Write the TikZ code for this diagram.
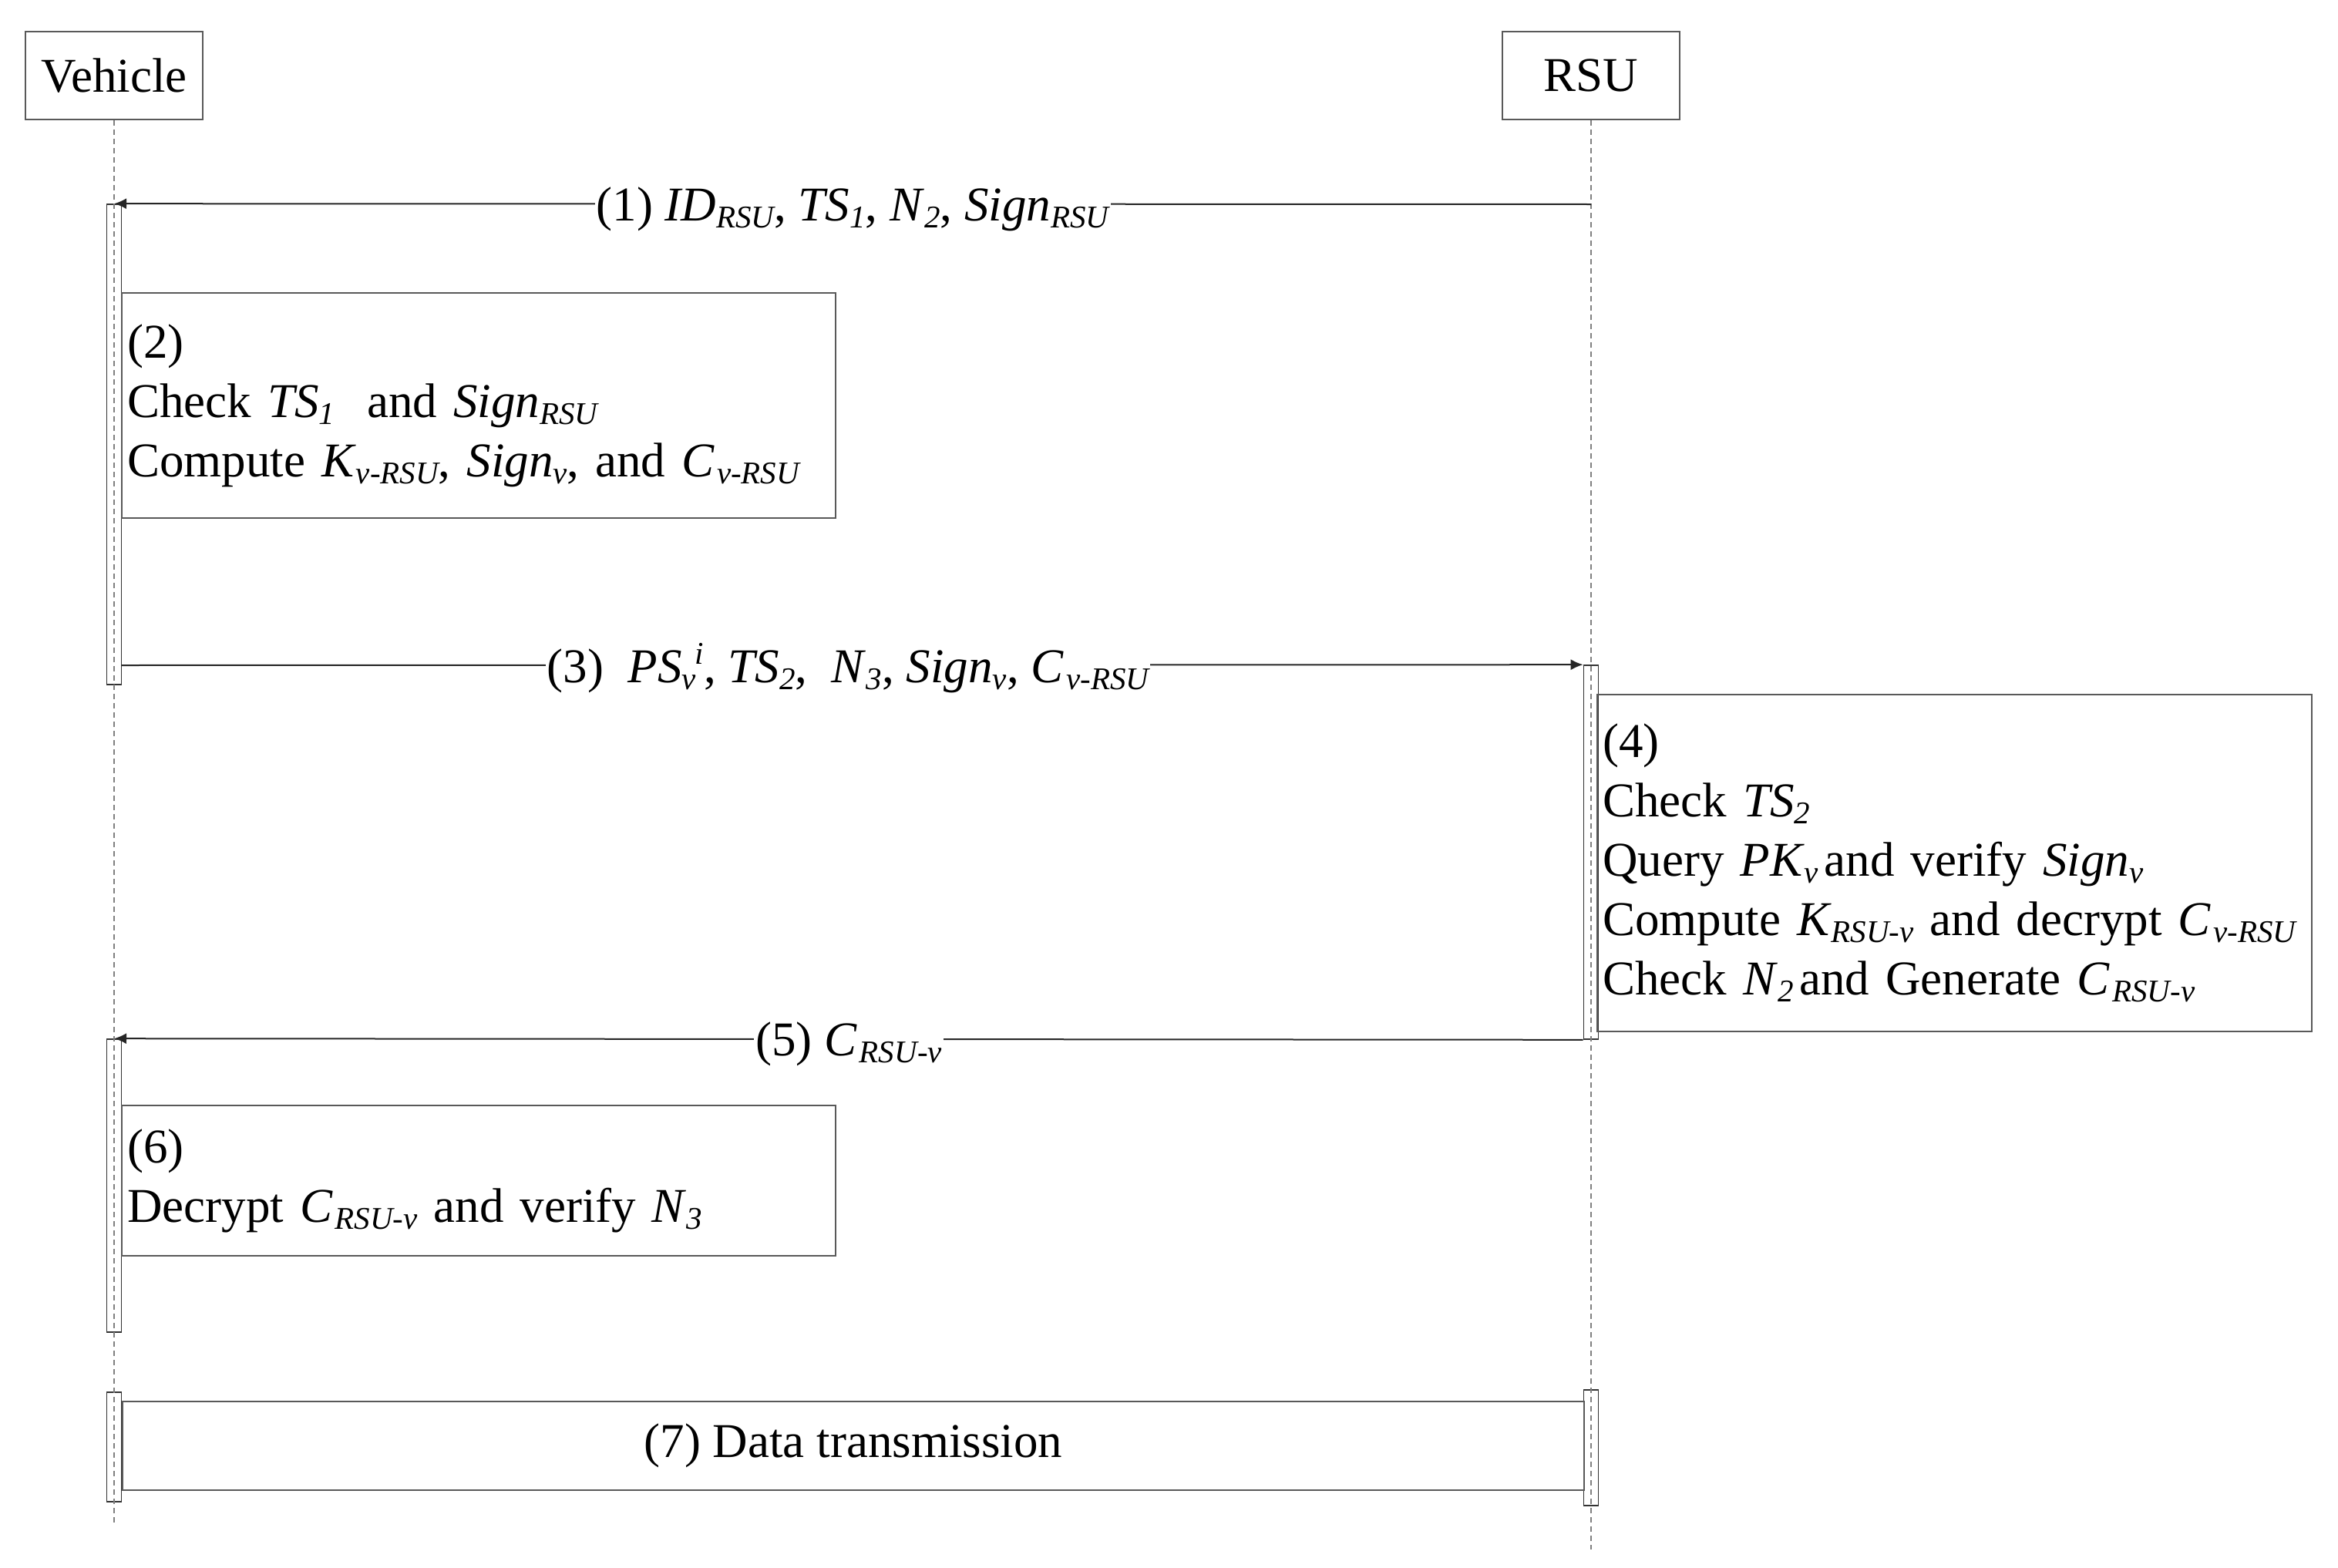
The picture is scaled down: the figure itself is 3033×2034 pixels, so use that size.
\documentclass[tikz,border=0pt]{standalone}
\usepackage{fontspec}
\setmainfont{Liberation Serif}
\usetikzlibrary{arrows.meta}
\newcommand\vr[1]{\textit{#1}}
\newcommand\sbx[1]{\raisebox{-9pt}{\fontsize{41}{41}\selectfont\itshape #1}}
\newcommand\sbsp[2]{\mbox{\rlap{\sbx{#1}}\raisebox{24pt}{\fontsize{41}{41}\selectfont\itshape\hspace{17pt}#2}}}
\tikzset{
  head/.style={draw=black!65, line width=2.2pt, minimum width=230pt, minimum height=114pt, inner sep=0pt},
  actbar/.style={draw=black!80, line width=1.6pt, fill=white, minimum width=19pt, inner sep=0pt},
  lifeln/.style={draw=black!50, line width=2.2pt, dash pattern=on 7pt off 5pt},
  msg/.style={draw=black!85, line width=2pt, -{Latex[length=16pt,width=14pt]}},
  lbl/.style={fill=white, inner sep=2pt, anchor=base},
  procbox/.style={draw=black!65, line width=2.2pt, anchor=north west, align=left, inner xsep=7pt, inner ysep=0pt},
}
\begin{document}
\begin{tikzpicture}[x=1pt, y=-1pt, font=\fontsize{63}{77}\selectfont]
\useasboundingbox (0,0) rectangle (3033,2034);

% heads
\node[head] (veh) at (148,98) {Vehicle};
\node[head] (rsu) at (2064,98) {RSU};

% activation bars
\node[actbar, minimum height=623pt] (vb1) at (148,576.5) {};
\node[actbar, minimum height=380pt] (vb2) at (148,1538) {};
\node[actbar, minimum height=142pt] (vb3) at (148,1877) {};
\node[actbar, minimum height=485pt] (rb1) at (2064,1105.5) {};
\node[actbar, minimum height=150pt] (rb3) at (2064,1878) {};

% lifelines
\coordinate (vend) at (148,1977);
\coordinate (rend) at (2064,2010);
\draw[lifeln] (veh.south) -- (vend);
\draw[lifeln] (rsu.south) -- (rend);

% messages
\coordinate (m1s) at (2064,265);
\coordinate (m3s) at (157.5,863);
\draw[msg] (m1s) -- (vb1.north);
\draw[msg] (m3s) -- (rb1.north west);
\draw[msg] (rb1.south west) -- (vb2.north);

% processing boxes
\node[procbox, text width=912pt, minimum height=292pt] (b2) at (157,379)
  {(2)\\Check \vr{TS}\sbx{1}\ \ and \vr{Sign}\sbx{RSU}\\Compute \vr{K}\sbx{v-RSU}, \vr{Sign}\sbx{v}, and \vr{C}\hspace{3pt}\sbx{v-RSU}};
\node[procbox, text width=913pt, minimum height=437pt] (b4) at (2071,900)
  {(4)\\Check \vr{TS}\sbx{2}\\Query \vr{PK}\sbx{v}\hspace{8pt}and verify \vr{Sign}\sbx{v}\\Compute \vr{K}\sbx{RSU-v} and decrypt \vr{C}\hspace{3pt}\sbx{v-RSU}\\Check \vr{N}\sbx{2}\hspace{8pt}and Generate \vr{C}\hspace{3pt}\sbx{RSU-v}};
\node[procbox, text width=912pt, minimum height=195pt] (b6) at (157,1433)
  {(6)\\Decrypt \vr{C}\hspace{3pt}\sbx{RSU-v} and verify \vr{N}\sbx{3}};
\node[procbox, align=center, minimum width=1896.5pt, minimum height=115pt, inner xsep=0pt] (b7) at (157.5,1817)
  {(7) Data transmission};

% message labels
\node[lbl] (l1) at (1106,286) {(1) \vr{ID}\sbx{RSU}, \vr{TS}\sbx{1}, \vr{N}\sbx{2}, \vr{Sign}\sbx{RSU}};
\node[lbl] (l3) at (1100,885) {(3)\ \ \vr{PS}\sbsp{v}{i}, \vr{TS}\sbx{2},\ \ \vr{N}\sbx{3}, \vr{Sign}\sbx{v}, \vr{C}\hspace{3pt}\sbx{v-RSU}};
\node[lbl] (l5) at (1101,1369) {(5) \vr{C}\hspace{3pt}\sbx{RSU-v}};
\end{tikzpicture}
\end{document}
